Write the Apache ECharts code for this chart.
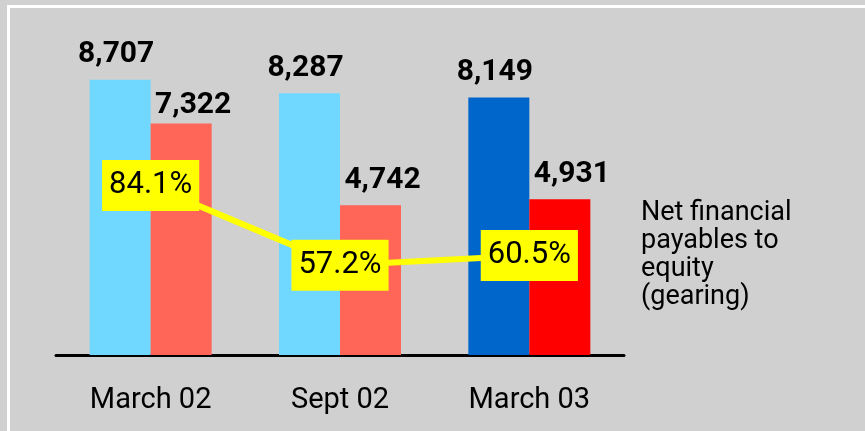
<!DOCTYPE html>
<html>
<head>
<meta charset="utf-8">
<script src="https://cdn.jsdelivr.net/npm/echarts@6/dist/echarts.min.js"></script>
<style>
html,body{margin:0;padding:0;background:#d0d0d0;}
#chart{width:865px;height:431px;}
</style>
</head>
<body>
<div id="chart"></div>
<script>
var categories = ['March 02', 'Sept 02', 'March 03'];
var grossDebt = [8707, 8287, 8149];
var netDebt = [7322, 4742, 4931];
var gearing = [84.1, 57.2, 60.5];
var sideNote = ['Net financial', 'payables to', 'equity', '(gearing)'];

var blueColors = ['#70d8ff', '#70d8ff', '#0066cc'];
var redColors = ['#ff6658', '#ff6658', '#ff0000'];
var FONT = 'Roboto';

var chart = echarts.init(document.getElementById('chart'));

function fmt(v){ return v.toLocaleString('en-US'); }

var barLabel = {
  show: true, position: 'top', distance: 10,
  fontFamily: FONT, fontWeight: 'bold', fontSize: 30, color: '#000',
  formatter: function(p){ return fmt(p.value); }
};

chart.setOption({
  backgroundColor: '#d0d0d0',
  animation: false,
  grid: { left: 56, right: 241, top: 39, bottom: 76 },
  xAxis: {
    type: 'category', data: categories,
    axisLine: { lineStyle: { color: '#000', width: 3 } },
    axisTick: { show: false },
    axisLabel: { fontFamily: FONT, fontSize: 29, color: '#000', margin: 31 }
  },
  yAxis: [
    { type: 'value', min: 0, max: 10000, show: false, splitLine: { show: false } },
    { type: 'value', min: 26.8, max: 133.7, show: false, splitLine: { show: false } }
  ],
  series: [
    {
      type: 'bar', barWidth: 61, barGap: '0%',
      data: grossDebt.map(function(v, i){
        return { value: v, itemStyle: { color: blueColors[i] },
                 label: { offset: [-4, 0] } };
      }),
      label: barLabel
    },
    {
      type: 'bar', barWidth: 61, barGap: '0%',
      data: netDebt.map(function(v, i){
        return { value: v, itemStyle: { color: redColors[i] },
                 label: { offset: [12, 0], distance: i === 0 ? 3 : 10 } };
      }),
      label: barLabel
    },
    {
      type: 'line', yAxisIndex: 1, data: gearing,
      symbol: 'rect', symbolSize: 2, showSymbol: true,
      itemStyle: { color: '#ffff00' },
      lineStyle: { color: '#ffff00', width: 6 },
      z: 5,
      labelLayout: { hideOverlap: false },
      label: {
        show: true, position: 'inside',
        fontFamily: FONT, fontSize: 31, color: '#000',
        backgroundColor: '#ffff00', padding: [8, 7, 8, 7], lineHeight: 35,
        formatter: function(p){ return p.value.toFixed(1) + '%'; }
      }
    }
  ],
  graphic: [
    {
      type: 'rect', silent: true,
      shape: { x: 8.5, y: 6.5, width: 1000, height: 1000 },
      style: { fill: 'none', stroke: '#ffffff', lineWidth: 3 }
    },
    {
      type: 'text', left: 641, top: 199,
      style: {
        text: sideNote.join('\n'), fontFamily: FONT, fontSize: 27,
        lineHeight: 28, fill: '#000'
      }
    }
  ]
});
</script>
</body>
</html>
